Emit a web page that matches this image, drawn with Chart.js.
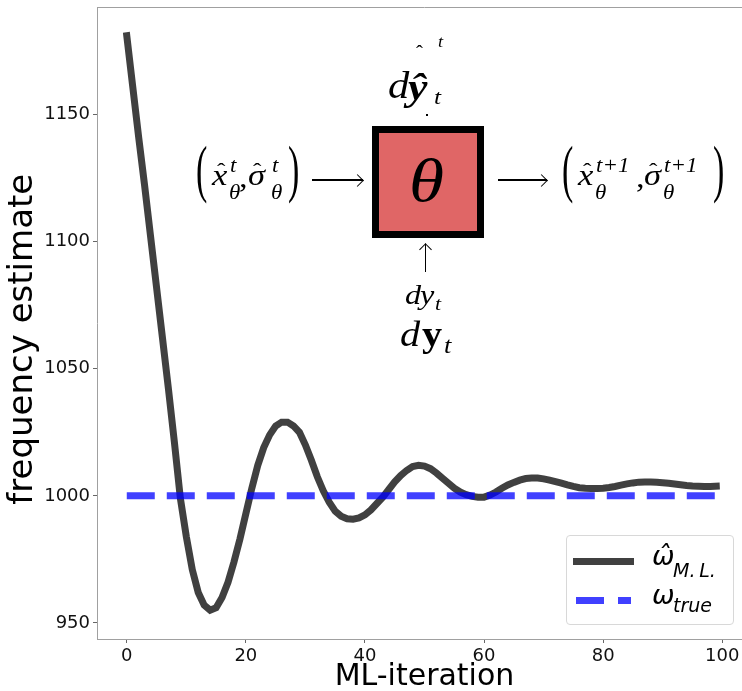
<!DOCTYPE html>
<html>
<head>
<meta charset="utf-8">
<script src="https://cdn.jsdelivr.net/npm/chart.js@4.4.0/dist/chart.umd.min.js"></script>
<style>
  html, body { margin: 0; padding: 0; background: #fff; overflow: hidden; }
  #wrap { position: relative; width: 760px; height: 691px; }
  .tx { position: absolute; font-family: "Liberation Serif", serif; font-style: italic; line-height: 1; white-space: nowrap; color: #000;
        transform: scaleX(1.15); transform-origin: 0 50%; }
  .shaft { position: absolute; background: #000; }
  .head { position: absolute; box-sizing: border-box; }
  #box { position: absolute; left: 372px; top: 126px; width: 112px; height: 112px; box-sizing: border-box;
         border: 7px solid #000; background: #e06666; }
  #legend { position: absolute; left: 566px; top: 535px; width: 168px; height: 90px; box-sizing: border-box;
            border: 1px solid #d8d8d8; border-radius: 4px; background: rgba(255,255,255,0.8); }
  .lg { position: absolute; font-family: "DejaVu Sans", sans-serif; font-style: italic; line-height: 1; color: #000; white-space: nowrap; }
</style>
</head>
<body>
<div id="wrap">
  <canvas id="freqChart"></canvas>
  <div id="box"></div>
  <div id="legend"></div>
</div>
<script>
// ML estimate of the frequency, one value per iteration
const mlEstimate = [
  1181, 1161, 1141, 1122, 1102, 1082, 1062, 1042, 1021, 999,
  984, 971, 962, 957, 955, 956, 960, 966, 974, 983,
  993, 1003, 1012, 1019, 1024, 1027.5, 1029, 1029, 1027.5, 1025,
  1020, 1014, 1007.5, 1002, 997.5, 994, 992, 991, 990.8, 991.3,
  992.5, 994.5, 997, 999.5, 1002.5, 1005.5, 1008, 1010, 1011.5, 1012,
  1011.7, 1010.7, 1009, 1007, 1005, 1003, 1001.5, 1000.5, 999.8, 999.5,
  999.5, 1000.3, 1001.5, 1003, 1004.3, 1005.3, 1006.2, 1006.8, 1007, 1007,
  1006.7, 1006.2, 1005.6, 1005, 1004.3, 1003.7, 1003.2, 1003, 1002.9, 1002.9,
  1003, 1003.3, 1003.7, 1004.2, 1004.7, 1005.1, 1005.4, 1005.5, 1005.5, 1005.4,
  1005.2, 1005, 1004.7, 1004.4, 1004.1, 1003.9, 1003.8, 1003.7, 1003.7, 1003.8
];
const trueFreq = 1000;
const trueSpan = [0, 99];
const xTicks = [0, 20, 40, 60, 80, 100];
const yTicks = [950, 1000, 1050, 1100, 1150];

const mlPoints = mlEstimate.map((v, i) => ({ x: i, y: v }));
const truePoints = trueSpan.map(x => ({ x: x, y: trueFreq }));

const spineColor = '#a0a0a0';

// matplotlib-like top spine (the right one is cut off by the frame)
const topSpine = {
  id: 'topSpine',
  afterDraw(chart) {
    const { ctx, chartArea } = chart;
    ctx.save();
    ctx.strokeStyle = spineColor;
    ctx.lineWidth = 1;
    ctx.beginPath();
    ctx.moveTo(chartArea.left, chartArea.top + 0.5);
    ctx.lineTo(chartArea.right, chartArea.top + 0.5);
    ctx.stroke();
    ctx.restore();
  }
};

new Chart(document.getElementById('freqChart'), {
  type: 'line',
  data: {
    datasets: [
      {
        label: 'ω̂ M.L.',
        data: mlPoints,
        borderColor: 'rgba(0,0,0,0.75)',
        borderWidth: 7,
        borderCapStyle: 'square',
        pointRadius: 0,
        tension: 0,
        order: 2
      },
      {
        label: 'ω true',
        data: truePoints,
        borderColor: 'rgba(0,0,255,0.75)',
        borderWidth: 7,
        borderDash: [28, 12],
        borderCapStyle: 'butt',
        pointRadius: 0,
        order: 1
      }
    ]
  },
  options: {
    responsive: true,
    maintainAspectRatio: false,
    animation: false,
    layout: { padding: { top: 7, right: 8, left: 0, bottom: 0 } },
    plugins: { legend: { display: false }, tooltip: { enabled: false } },
    scales: {
      x: {
        type: 'linear',
        min: -5,
        max: 105,
        afterBuildTicks: s => { s.ticks = xTicks.map(v => ({ value: v })); },
        afterFit: s => { s.height = 52; s.paddingLeft = 0; s.paddingRight = 0; },
        grid: { drawOnChartArea: false, tickLength: 4, tickColor: '#666', tickWidth: 1 },
        border: { color: spineColor, width: 1 },
        ticks: { color: '#111', padding: 3, maxRotation: 0, callback: v => String(v),
                 font: { family: 'DejaVu Sans', size: 18 } },
        title: { display: true, text: 'ML-iteration', color: '#000', padding: { top: 0, bottom: -4 },
                 font: { family: 'DejaVu Sans', size: 30 } }
      },
      y: {
        type: 'linear',
        min: 943.7,
        max: 1192.3,
        afterBuildTicks: s => { s.ticks = yTicks.map(v => ({ value: v })); },
        afterFit: s => { s.width = 97; s.paddingTop = 0; s.paddingBottom = 0; },
        grid: { drawOnChartArea: false, tickLength: 4, tickColor: '#666', tickWidth: 1 },
        border: { color: spineColor, width: 1 },
        ticks: { color: '#111', padding: 3, callback: v => String(v),
                 font: { family: 'DejaVu Sans', size: 18 } },
        // trailing spaces push the label a bit below the axis centre, as in the figure
        title: { display: true, text: 'frequency estimate\u00a0\u00a0\u00a0', color: '#000', padding: { top: 3, bottom: 0 },
                 font: { family: 'DejaVu Sans', size: 34 } }
      }
    }
  },
  plugins: [topSpine]
});

// ---- inset diagram (LaTeX-like labels) ----
const wrap = document.getElementById('wrap');

function put(txt, left, base, size, style) {
  const el = document.createElement('span');
  el.className = 'tx';
  el.textContent = txt;
  el.style.left = left + 'px';
  el.style.top = (base - 0.84 * size) + 'px';
  el.style.fontSize = size + 'px';
  if (style) el.style.cssText += style;
  wrap.appendChild(el);
  return el;
}

function paren(ch, left, top) {
  put(ch, left, top + 30, 34, 'font-style:normal;transform:scaleY(1.85);transform-origin:50% 50%;font-weight:300;');
}

function hat(left, top) {
  // circumflex sits ~0.72em above its baseline
  put('ˆ', left, top + 16, 22, 'font-style:normal;');
}

function arrowRight(x1, x2, y) {
  const s = document.createElement('div');
  s.className = 'shaft';
  s.style.cssText = `left:${x1}px;top:${y - 0.7}px;width:${x2 - x1 - 1}px;height:1.4px;`;
  wrap.appendChild(s);
  const h = document.createElement('div');
  h.className = 'head';
  const a = 9;
  h.style.cssText = `left:${x2 - a / Math.SQRT2 - a / 2}px;top:${y - a / 2}px;width:${a}px;height:${a}px;` +
    'border-top:1.4px solid #000;border-right:1.4px solid #000;transform:rotate(45deg);';
  wrap.appendChild(h);
}

function arrowUp(x, y1, y2) {
  const s = document.createElement('div');
  s.className = 'shaft';
  s.style.cssText = `left:${x - 0.7}px;top:${y2 + 1}px;width:1.4px;height:${y1 - y2 - 1}px;`;
  wrap.appendChild(s);
  const h = document.createElement('div');
  h.className = 'head';
  const a = 9;
  h.style.cssText = `left:${x - a / 2}px;top:${y2 + a / Math.SQRT2 - a / 2}px;width:${a}px;height:${a}px;` +
    'border-top:1.4px solid #000;border-left:1.4px solid #000;transform:rotate(45deg);';
  wrap.appendChild(h);
}

// stray fragment above
put('ˆ', 416, 58, 18, 'font-style:normal;');
put('t', 438, 47, 16);
// d y-hat _t
put('d', 388, 98, 37);
put('ŷ', 408, 100, 38, 'font-weight:bold;');
put('t', 434, 104, 22);
const dot = document.createElement('div');
dot.style.cssText = 'position:absolute;left:426px;top:114px;width:2px;height:2px;background:#000;';
wrap.appendChild(dot);

// theta in the box
put('θ', 409, 201, 62);

// left state
paren('(', 196, 152);
put('x', 212, 185, 30);
hat(217, 162);
put('t', 230, 172, 20);
put('θ', 229, 199, 20);
put(',', 239, 187, 30, 'font-style:normal;');
put('σ', 248, 185, 30);
hat(253, 162);
put('t', 272, 172, 20);
put('θ', 271, 199, 20);
paren(')', 288, 152);
arrowRight(312, 364, 180);

// right state
arrowRight(498, 548, 180);
paren('(', 562, 152);
put('x', 578, 185, 30);
hat(583, 162);
put('t+1', 596, 172, 20);
put('θ', 595, 199, 20);
put(',', 636, 187, 30, 'font-style:normal;');
put('σ', 644, 185, 30);
hat(649, 162);
put('t+1', 664, 172, 20);
put('θ', 663, 199, 20);
paren(')', 713, 152);

// input from below
arrowUp(425.5, 272, 243);
put('d', 405, 305, 28);
put('y', 420, 305, 28);
put('t', 435, 310, 19);
put('d', 400, 346, 35);
put('y', 422, 346, 35, 'font-style:normal;font-weight:bold;');
put('t', 444, 353, 23);

// ---- legend ----
const legend = document.getElementById('legend');
function lgLine(left, top, w, color) {
  const d = document.createElement('div');
  d.style.cssText = `position:absolute;left:${left}px;top:${top}px;width:${w}px;height:7px;background:${color};`;
  legend.appendChild(d);
}
function lgText(txt, left, top, size) {
  const s = document.createElement('span');
  s.className = 'lg';
  s.textContent = txt;
  s.style.left = left + 'px';
  s.style.top = top + 'px';
  s.style.fontSize = size + 'px';
  legend.appendChild(s);
}
lgLine(6, 22, 61, 'rgba(0,0,0,0.75)');
lgLine(9, 61, 28, 'rgba(0,0,255,0.75)');
lgLine(51, 61, 13, 'rgba(0,0,255,0.75)');
lgText('ω̂', 85, 6, 27);
lgText('M.\u2009L.', 106, 25, 19);
lgText('ω', 85, 45, 27);
lgText('true', 106, 60, 19);
</script>
</body>
</html>
